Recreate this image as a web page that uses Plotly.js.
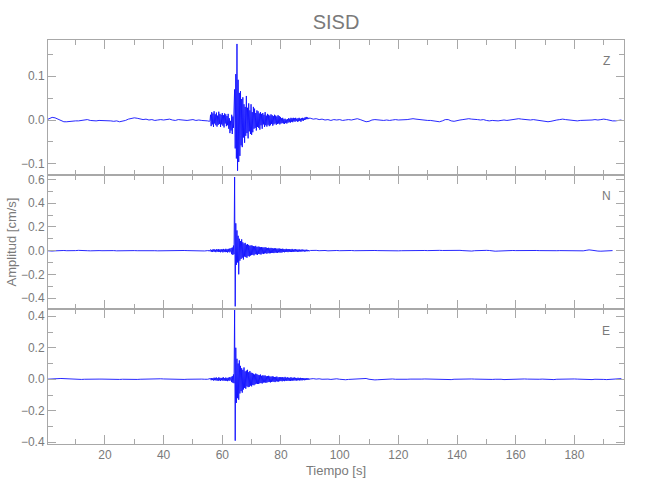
<!DOCTYPE html>
<html>
<head>
<meta charset="utf-8">
<script src="https://cdn.plot.ly/plotly-3.0.1.min.js"></script>
<style>html,body{margin:0;padding:0;background:#fff;}#chart{width:650px;height:500px;}</style>
</head>
<body>
<div id="chart"></div>
<script>
// Station and channel names
const STATION = 'SISD';
const CHANNELS = ['Z', 'N', 'E'];

// Sampling of the three record segments: start time [s] and step [s]
const SEG_START = [0, 55, 90];
const SEG_STEP = [1, 0.2, 1];

// Vertical component (cm/s)
const Z_PRE = [0.000,0.003,0.006,0.005,0.002,-0.002,-0.004,-0.004,-0.003,-0.003,
-0.002,-0.002,-0.001,0.000,0.001,-0.001,-0.002,-0.002,-0.001,-0.001,
-0.002,-0.001,-0.002,-0.003,-0.002,-0.004,-0.003,-0.001,0.002,0.003,
0.005,0.004,0.003,0.001,0.002,0.000,0.001,-0.001,0.000,0.001,
0.000,0.001,0.002,0.000,-0.001,0.001,0.000,0.000,-0.001,0.000,
0.001,-0.001,0.000,-0.001,-0.002,-0.002];
const Z_EVENT = [-0.002,-0.003,-0.002,-0.003,-0.002,
0.012,-0.014,0.018,-0.010,0.015,-0.016,0.020,-0.008,0.013,-0.012,
0.017,-0.015,0.010,-0.011,0.019,-0.009,0.014,-0.016,0.012,-0.010,
0.016,-0.013,0.011,-0.017,0.015,-0.008,0.013,-0.014,0.009,-0.012,0.014,
-0.020,0.004,-0.030,-0.002,-0.024,0.012,-0.032,0.008,-0.018,0.030,
0.070,-0.065,0.105,-0.088,0.174,-0.116,0.092,-0.096,0.062,-0.082,
0.066,-0.058,0.048,-0.062,0.052,-0.040,0.036,-0.052,0.030,-0.036,
0.055,-0.030,0.028,-0.042,0.038,-0.026,0.022,-0.032,0.036,-0.034,
0.018,-0.028,0.030,-0.020,0.026,-0.018,0.016,-0.024,0.022,-0.016,
0.020,-0.018,0.015,-0.022,0.018,-0.012,0.014,-0.020,0.016,-0.010,
0.012,-0.016,0.018,-0.012,0.010,-0.015,0.014,-0.011,0.012,-0.014,
0.010,-0.012,0.013,-0.009,0.011,-0.013,0.009,-0.010,0.012,-0.008,
0.010,-0.011,0.008,-0.009,0.011,-0.008,0.009,-0.010,0.007,-0.008,
0.004,-0.007,0.005,-0.008,0.002,-0.009,0.003,-0.007,0.001,-0.008,
0.002,-0.006,0.004,-0.005,0.003,-0.006,0.005,-0.004,0.004,-0.005,
0.005,-0.003,0.004,-0.004,0.005,-0.002,0.003,-0.004,0.004,-0.003,
0.005,-0.002,0.003,-0.004,0.004,-0.001,0.005,-0.002,0.004,0.000,
0.006,0.001,0.007,0.002,0.006,0.002,0.005,0.003,0.005,0.004];
const Z_POST = [0.004,0.002,0.003,0.001,0.002,0.000,0.001,-0.001,0.001,0.000,
0.001,-0.001,0.000,0.001,0.000,0.002,0.003,0.001,-0.002,-0.004,
-0.003,0.000,0.001,0.000,-0.001,-0.001,0.000,-0.001,0.000,0.001,
0.000,0.000,0.001,0.001,0.002,0.003,0.002,0.001,0.001,0.000,
-0.001,-0.001,-0.002,-0.003,-0.004,-0.002,0.001,0.001,-0.002,-0.003,
-0.001,0.000,0.001,0.002,0.003,0.002,0.002,0.001,0.000,0.001,
-0.001,-0.002,-0.001,-0.002,-0.002,-0.001,0.000,-0.001,0.000,0.001,
0.002,0.003,0.002,0.001,0.001,0.000,0.001,0.000,-0.001,-0.002,
-0.003,-0.004,-0.003,-0.001,0.000,0.001,0.002,0.001,0.000,-0.001,
-0.001,-0.002,-0.001,-0.001,0.000,-0.001,0.000,0.001,0.000,0.001,
0.002,0.001,-0.001,-0.002,-0.002,-0.001,0.000];

// North component (cm/s)
const N_PRE = [0.000,-0.003,-0.004,-0.002,0.000,0.002,0.001,-0.001,-0.002,-0.002,
0.000,0.002,0.003,0.001,-0.001,-0.002,0.000,0.001,0.000,-0.001,
0.000,0.002,0.001,0.000,-0.002,-0.001,0.001,0.002,0.002,0.001,
0.000,-0.001,0.000,0.001,0.002,0.001,0.000,-0.001,-0.002,-0.001,
0.000,0.001,0.000,-0.001,0.000,0.001,0.002,0.001,0.000,-0.001,
0.000,0.001,-0.002,-0.004,-0.003,0.000];
const N_EVENT = [0.000,-0.004,0.003,-0.005,0.004,
0.008,-0.010,0.006,-0.012,0.010,-0.007,0.012,-0.009,0.007,-0.013,
0.011,-0.008,0.009,-0.012,0.013,-0.010,0.008,-0.014,0.012,-0.009,
0.010,-0.015,0.014,-0.011,0.009,-0.013,0.015,-0.012,0.011,-0.016,
0.014,-0.010,0.017,-0.015,0.012,
0.022,-0.030,0.026,-0.036,0.042,-0.030,
0.620,-0.470,0.230,-0.120,0.170,-0.100,0.125,-0.200,0.100,-0.085,
0.080,-0.070,0.095,-0.060,0.070,-0.075,0.060,-0.050,0.065,-0.055,
0.050,-0.060,0.055,-0.045,0.048,-0.050,0.040,-0.042,0.045,-0.038,
0.042,-0.035,0.038,-0.040,0.035,-0.030,0.040,-0.032,0.030,-0.036,
0.034,-0.028,0.032,-0.030,0.028,-0.033,0.030,-0.025,0.027,-0.029,
0.026,-0.024,0.028,-0.022,0.025,-0.026,0.022,-0.021,0.024,-0.023,
0.020,-0.022,0.023,-0.019,0.021,-0.020,0.018,-0.021,0.019,-0.017,
0.020,-0.018,0.016,-0.019,0.017,-0.015,0.018,-0.016,0.015,-0.017,
0.014,-0.015,0.016,-0.012,0.013,-0.014,0.012,-0.011,0.015,-0.012,
0.011,-0.013,0.012,-0.010,0.013,-0.011,0.010,-0.012,0.014,-0.010,
0.009,-0.011,0.010,-0.009,0.012,-0.008,0.009,-0.010,0.008,-0.009,
0.010,-0.008,0.007,-0.009,0.008,-0.007,0.009,-0.006,0.007,-0.008,
0.006,-0.007,0.008,-0.005,0.006,-0.006,0.005,-0.004,0.004,0.001];
const N_POST = [0.001,0.003,0.002,-0.001,0.002,0.001,-0.002,0.000,0.002,0.001,
-0.001,0.001,0.000,0.002,0.001,-0.001,0.000,0.001,0.002,0.000,
-0.001,0.000,0.001,0.000,-0.001,0.001,0.000,0.002,0.001,0.000,
-0.002,-0.001,0.000,0.001,0.002,0.001,0.000,0.001,0.002,0.001,
0.000,0.002,0.001,0.003,0.002,0.001,0.002,0.001,0.000,-0.001,
0.001,0.002,0.000,-0.003,-0.005,-0.004,-0.001,0.001,0.002,0.001,
0.002,0.001,-0.003,-0.005,-0.004,-0.002,0.000,0.001,0.002,0.001,
0.000,0.001,0.002,0.001,0.000,0.001,0.002,0.001,0.000,-0.001,
0.001,0.002,0.001,0.000,-0.001,0.000,-0.001,0.000,0.001,0.000,
-0.001,-0.003,-0.004,-0.002,0.002,0.006,0.003,-0.002,-0.004,-0.005,
-0.004,-0.002,-0.001,0.000];

// East component (cm/s)
const E_PRE = [0.000,0.002,0.001,0.003,0.004,0.005,0.004,0.002,0.000,-0.002,
-0.003,-0.002,-0.001,0.000,0.001,0.000,-0.001,0.000,0.001,0.001,
0.000,0.001,0.000,-0.001,-0.002,-0.001,0.000,-0.001,-0.002,-0.003,
-0.002,-0.001,0.000,0.001,0.002,0.001,0.000,0.001,0.002,0.003,
0.002,0.001,0.000,-0.001,0.000,0.001,0.000,-0.001,0.000,0.001,
0.000,-0.001,0.000,0.001,0.000,0.000];
const E_EVENT = [0.000,0.001,-0.001,0.001,0.000,
0.005,-0.006,0.008,-0.005,0.007,-0.008,0.010,-0.006,0.009,-0.007,
0.011,-0.008,0.006,-0.010,0.012,-0.007,0.009,-0.011,0.008,-0.006,
0.010,-0.009,0.012,-0.008,0.007,-0.010,0.011,-0.009,0.008,-0.012,
0.010,-0.008,0.013,-0.010,0.009,
0.015,-0.018,0.020,-0.022,0.030,-0.025,
0.440,-0.390,0.200,-0.150,0.130,-0.120,0.100,-0.130,0.120,-0.090,
0.085,-0.075,0.070,-0.085,0.060,-0.065,0.075,-0.055,0.050,-0.060,
0.055,-0.045,0.060,-0.050,0.045,-0.048,0.052,-0.040,0.042,-0.045,
0.040,-0.036,0.035,-0.038,0.030,-0.032,0.036,-0.028,0.032,-0.030,
0.028,-0.030,0.026,-0.025,0.030,-0.024,0.022,-0.027,0.025,-0.021,
0.023,-0.020,0.024,-0.022,0.019,-0.021,0.020,-0.018,0.022,-0.017,
0.018,-0.020,0.016,-0.017,0.019,-0.015,0.017,-0.016,0.014,-0.018,
0.015,-0.013,0.017,-0.014,0.012,-0.015,0.014,-0.012,0.013,-0.011,
0.012,-0.013,0.014,-0.010,0.011,-0.012,0.015,-0.009,0.010,-0.011,
0.012,-0.009,0.010,-0.010,0.009,-0.011,0.013,-0.008,0.009,-0.009,
0.010,-0.008,0.011,-0.007,0.009,-0.009,0.008,-0.007,0.010,-0.006,
0.008,-0.008,0.009,-0.006,0.007,-0.007,0.008,-0.005,0.007,-0.006,
0.006,-0.005,0.007,-0.004,0.006,-0.004,0.005,-0.003,0.004,0.002];
const E_POST = [0.002,0.004,0.001,0.003,0.000,0.002,0.001,-0.001,0.002,0.003,
0.000,-0.002,-0.003,-0.001,0.000,0.002,0.004,0.007,0.008,0.005,
0.000,-0.003,-0.004,-0.003,-0.002,0.000,0.002,0.004,0.002,0.000,
-0.001,-0.002,-0.001,0.000,0.001,0.000,-0.001,0.000,0.001,0.002,
0.001,0.000,-0.001,-0.002,-0.001,0.000,-0.002,-0.003,-0.002,0.000,
0.001,0.002,0.001,0.002,0.003,0.002,0.001,0.000,0.001,0.002,
0.001,0.000,-0.001,0.000,0.001,0.000,-0.002,-0.001,0.001,0.002,
0.001,0.000,0.001,0.002,0.001,0.000,-0.001,-0.002,0.000,0.001,
0.000,-0.002,-0.003,-0.002,0.000,0.001,0.002,0.003,0.002,0.001,
0.002,0.001,0.000,-0.001,-0.002,-0.001,-0.002,0.000,0.001,0.000,
-0.001,-0.002,-0.001,0.002,0.004,0.005,0.004];

// Axis settings
const X_RANGE = [0.6, 196.9];
const Y_RANGES = { Z: [-0.125, 0.183], N: [-0.495, 0.64], E: [-0.411, 0.444] };
const Y_DTICK = { Z: 0.1, N: 0.2, E: 0.2 };
const TITLE_TEXT = STATION;
const X_TITLE = 'Tiempo [s]';
const Y_TITLE = 'Amplitud [cm/s]';

const FONT = 'Liberation Sans Narrow, Liberation Sans, Arial, sans-serif';
const AXIS_COLOR = '#a8a8a8';
const TEXT_COLOR = '#7a7a7a';
const TRACE_COLOR = '#1010ff';

const series = {
  Z: [Z_PRE, Z_EVENT, Z_POST],
  N: [N_PRE, N_EVENT, N_POST],
  E: [E_PRE, E_EVENT, E_POST]
};
// axis assignment: E bottom (x/y), N middle (x2/y2), Z top (x3/y3)
const axisId = { E: '', N: '2', Z: '3' };

const data = [];
CHANNELS.forEach(ch => {
  series[ch].forEach((seg, k) => {
    data.push({
      type: 'scatter', mode: 'lines',
      x0: SEG_START[k], dx: SEG_STEP[k], y: seg,
      xaxis: 'x' + axisId[ch], yaxis: 'y' + axisId[ch],
      line: { color: TRACE_COLOR, width: 0.9 },
      hoverinfo: 'skip', showlegend: false
    });
  });
});

function xAxis(showLabels, anchor) {
  return {
    range: X_RANGE, anchor: anchor, domain: [0, 1],
    showline: true, linecolor: AXIS_COLOR, linewidth: 1, mirror: 'allticks',
    ticks: 'inside', ticklen: 9, tickwidth: 1, tickcolor: AXIS_COLOR,
    tick0: 0, dtick: 20,
    minor: { ticks: 'inside', ticklen: 5, tickcolor: AXIS_COLOR, dtick: 10, tick0: 0, showgrid: false },
    showgrid: false, zeroline: false,
    showticklabels: showLabels,
    tickfont: { family: FONT, size: 12, color: TEXT_COLOR }
  };
}
function yAxis(ch, domain, anchor) {
  return {
    range: Y_RANGES[ch], domain: domain, anchor: anchor,
    showline: true, linecolor: AXIS_COLOR, linewidth: 1, mirror: 'allticks',
    ticks: 'inside', ticklen: 8, tickwidth: 1, tickcolor: AXIS_COLOR,
    tick0: 0, dtick: Y_DTICK[ch], tickformat: '.1f',
    minor: { ticks: 'inside', ticklen: 5, tickcolor: AXIS_COLOR, dtick: Y_DTICK[ch] / 2, tick0: 0, showgrid: false },
    showgrid: false, zeroline: false,
    tickfont: { family: FONT, size: 12, color: TEXT_COLOR }
  };
}

const xa = xAxis(true, 'y');
xa.title = { text: X_TITLE, font: { family: FONT, size: 13, color: TEXT_COLOR }, standoff: 4 };
const ya2 = yAxis('N', [1/3, 2/3], 'x2');
ya2.title = { text: Y_TITLE, font: { family: FONT, size: 13, color: TEXT_COLOR }, standoff: 1 };

const chanLabelY = { Z: 0.948, N: 0.614, E: 0.280 };

const layout = {
  width: 650, height: 500,
  margin: { l: 48, r: 26, t: 40, b: 56, pad: 0 },
  paper_bgcolor: '#ffffff', plot_bgcolor: '#ffffff',
  font: { family: FONT, color: TEXT_COLOR },
  title: { text: TITLE_TEXT, font: { family: FONT, size: 20, color: TEXT_COLOR },
           x: 0.5, xref: 'paper', y: 0.956, yref: 'container', yanchor: 'middle' },
  showlegend: false,
  xaxis: xa,
  xaxis2: Object.assign(xAxis(false, 'y2'), { matches: 'x' }),
  xaxis3: Object.assign(xAxis(false, 'y3'), { matches: 'x' }),
  yaxis: yAxis('E', [0, 1/3], 'x'),
  yaxis2: ya2,
  yaxis3: yAxis('Z', [2/3, 1], 'x3'),
  annotations: CHANNELS.map(ch => ({
    text: ch, xref: 'paper', yref: 'paper', x: 0.969, y: chanLabelY[ch],
    xanchor: 'center', yanchor: 'middle', showarrow: false,
    font: { family: FONT, size: 12, color: TEXT_COLOR }
  }))
};

Plotly.newPlot('chart', data, layout, { displayModeBar: false, staticPlot: true });
</script>
</body>
</html>
